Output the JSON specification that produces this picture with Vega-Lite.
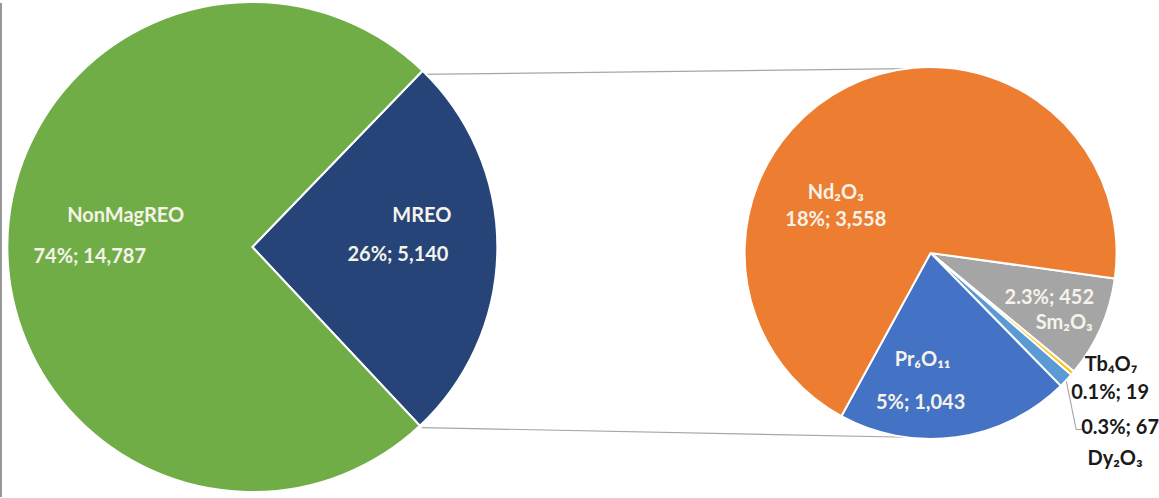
{
  "$schema": "https://vega.github.io/schema/vega-lite/v6.json",
  "width": 1159,
  "height": 498,
  "autosize": {"type": "fit", "contains": "padding"},
  "padding": 0,
  "background": "white",
  "view": {"stroke": null},
  "datasets": {
    "left": [
      {"name": "MREO", "value": 5140, "rank": 1, "cx": 253, "cy": 246},
      {"name": "NonMagREO", "value": 14787, "rank": 2, "cx": 253, "cy": 246}
    ],
    "right": [
      {"name": "Sm2O3", "value": 452, "rank": 1, "cx": 933, "cy": 252},
      {"name": "Tb4O7", "value": 19, "rank": 2, "cx": 933, "cy": 252},
      {"name": "Dy2O3", "value": 67, "rank": 3, "cx": 933, "cy": 252},
      {"name": "Pr6O11", "value": 1043, "rank": 4, "cx": 933, "cy": 252},
      {"name": "Nd2O3", "value": 3558, "rank": 5, "cx": 933, "cy": 252}
    ],
    "lines": [
      {"kind": "link", "x": 420, "y": 72, "x2": 930, "y2": 66},
      {"kind": "link", "x": 423, "y": 428, "x2": 925, "y2": 438},
      {"kind": "leader", "x": 1068, "y": 376, "x2": 1079, "y2": 430},
      {"kind": "leader", "x": 1079, "y": 430, "x2": 1085, "y2": 430},
      {"kind": "frame", "x": 1, "y": 0, "x2": 1, "y2": 498}
    ],
    "inner": [
      {"label": "NonMagREO", "x": 126, "y": 215},
      {"label": "74%; 14,787", "x": 90, "y": 256},
      {"label": "MREO", "x": 423, "y": 215},
      {"label": "26%;  5,140", "x": 399, "y": 254},
      {"label": "Nd₂O₃", "x": 838, "y": 192},
      {"label": "18%; 3,558", "x": 838, "y": 219},
      {"label": "Pr₆O₁₁", "x": 925, "y": 360},
      {"label": "5%; 1,043", "x": 923, "y": 403},
      {"label": "2.3%; 452", "x": 1052, "y": 297},
      {"label": "Sm₂O₃", "x": 1067, "y": 323}
    ],
    "outer": [
      {"label": "Tb₄O₇", "x": 1114, "y": 365},
      {"label": "0.1%; 19", "x": 1113, "y": 393},
      {"label": "0.3%; 67", "x": 1123, "y": 428},
      {"label": "Dy₂O₃", "x": 1118, "y": 460}
    ]
  },
  "layer": [
    {
      "data": {"name": "lines"},
      "mark": {"type": "rule"},
      "encoding": {
        "x": {"field": "x", "type": "quantitative", "scale": {"domain": [0, 1159], "nice": false, "zero": false}, "axis": null},
        "y": {"field": "y", "type": "quantitative", "scale": {"domain": [0, 498], "nice": false, "zero": false, "reverse": true}, "axis": null},
        "x2": {"field": "x2"},
        "y2": {"field": "y2"},
        "color": {"field": "kind", "type": "nominal", "scale": {"domain": ["link", "leader", "frame"], "range": ["#A6A6A6", "#A6A6A6", "#333333"]}, "legend": null},
        "strokeWidth": {"field": "kind", "type": "nominal", "scale": {"domain": ["link", "leader", "frame"], "range": [1.2, 1, 2.5]}, "legend": null}
      }
    },
    {
      "data": {"name": "left"},
      "mark": {"type": "arc", "outerRadius": 245, "stroke": "white", "strokeWidth": 2},
      "encoding": {
        "x": {"field": "cx", "type": "quantitative"},
        "y": {"field": "cy", "type": "quantitative"},
        "theta": {"field": "value", "type": "quantitative", "stack": true, "scale": {"range": [0.768, 7.051]}},
        "order": {"field": "rank", "type": "quantitative"},
        "color": {"field": "name", "type": "nominal", "scale": {"domain": ["MREO", "NonMagREO"], "range": ["#264478", "#70AD47"]}, "legend": null}
      }
    },
    {
      "data": {"name": "right"},
      "mark": {"type": "arc", "outerRadius": 186, "stroke": "white", "strokeWidth": 2},
      "encoding": {
        "x": {"field": "cx", "type": "quantitative"},
        "y": {"field": "cy", "type": "quantitative"},
        "theta": {"field": "value", "type": "quantitative", "stack": true, "scale": {"range": [1.709, 7.992]}},
        "order": {"field": "rank", "type": "quantitative"},
        "color": {"field": "name", "type": "nominal", "scale": {"domain": ["Sm2O3", "Tb4O7", "Dy2O3", "Pr6O11", "Nd2O3"], "range": ["#A5A5A5", "#FFC000", "#5B9BD5", "#4472C4", "#ED7D31"]}, "legend": null}
      }
    },
    {
      "data": {"name": "inner"},
      "mark": {"type": "text", "font": "Lato", "fontWeight": "bold", "fontSize": 20, "fill": "#F6F3EA", "align": "center", "baseline": "middle"},
      "encoding": {
        "x": {"field": "x", "type": "quantitative"},
        "y": {"field": "y", "type": "quantitative"},
        "text": {"field": "label", "type": "nominal"}
      }
    },
    {
      "data": {"name": "outer"},
      "mark": {"type": "text", "font": "Lato", "fontWeight": "bold", "fontSize": 20, "fill": "#1A1A1A", "align": "center", "baseline": "middle"},
      "encoding": {
        "x": {"field": "x", "type": "quantitative"},
        "y": {"field": "y", "type": "quantitative"},
        "text": {"field": "label", "type": "nominal"}
      }
    }
  ],
  "resolve": {"scale": {"theta": "independent", "color": "independent", "strokeWidth": "independent"}}
}
